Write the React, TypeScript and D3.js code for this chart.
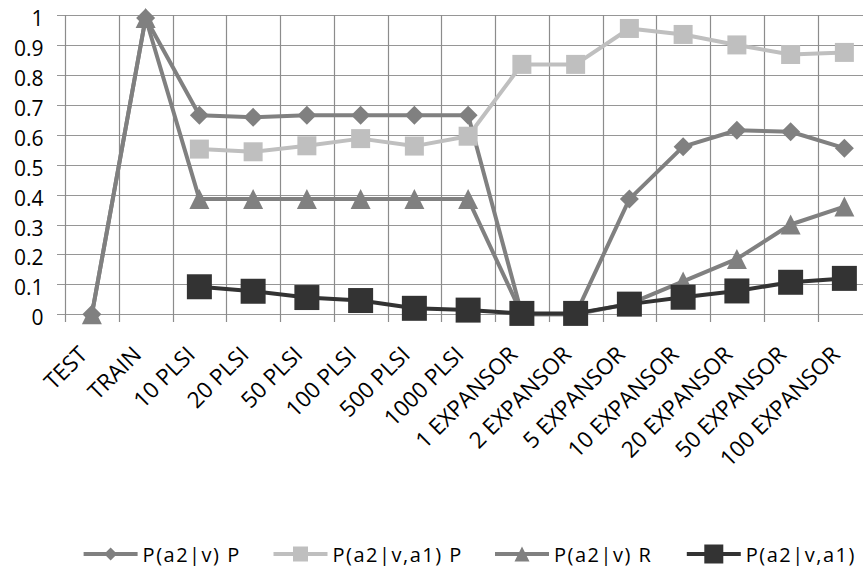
import React from 'react';
import * as d3 from 'd3';

const categories = [
  'TEST', 'TRAIN', '10 PLSI', '20 PLSI', '50 PLSI', '100 PLSI', '500 PLSI', '1000 PLSI',
  '1 EXPANSOR', '2 EXPANSOR', '5 EXPANSOR', '10 EXPANSOR', '20 EXPANSOR', '50 EXPANSOR', '100 EXPANSOR',
];

const pvP = [0, 0.99, 0.665, 0.658, 0.665, 0.665, 0.665, 0.665, 0, 0, 0.385, 0.56, 0.615, 0.61, 0.555];
const pva1P = [null, null, 0.552, 0.543, 0.563, 0.587, 0.562, 0.595, 0.835, 0.835, 0.955, 0.935, 0.9, 0.868, 0.875];
const pvR = [0, 0.99, 0.385, 0.385, 0.385, 0.385, 0.385, 0.385, 0, 0, 0.035, 0.11, 0.185, 0.3, 0.36];
const pva1R = [null, null, 0.092, 0.077, 0.056, 0.046, 0.02, 0.014, 0.003, 0.003, 0.034, 0.057, 0.078, 0.107, 0.12];

const yTicks = [0, 0.1, 0.2, 0.3, 0.4, 0.5, 0.6, 0.7, 0.8, 0.9, 1];

type Series = { name: string; values: (number | null)[]; color: string; marker: string };

const series: Series[] = [
  { name: 'P(a2|v) P', values: pvP, color: '#808080', marker: 'diamond' },
  { name: 'P(a2|v,a1) P', values: pva1P, color: '#bfbfbf', marker: 'square' },
  { name: 'P(a2|v) R', values: pvR, color: '#808080', marker: 'triangle' },
  { name: 'P(a2|v,a1) R', values: pva1R, color: '#333333', marker: 'bigsquare' },
];

const W = 863;
const H = 566;
const FONT = '"Open Sans", sans-serif';

// marker outline for a given type, size in px (bounding box)
function markerPath(kind: string, s: number) {
  const h = s / 2;
  if (kind === 'diamond') return `M0,${-h}L${h},0L0,${h}L${-h},0Z`;
  if (kind === 'triangle') return `M0,${-h}L${h},${h}L${-h},${h}Z`;
  return `M${-h},${-h}H${h}V${h}H${-h}Z`;
}

const chartSize: Record<string, number> = { diamond: 19, square: 19, triangle: 20, bigsquare: 25 };
const legendSize: Record<string, number> = { diamond: 13, square: 15, triangle: 15, bigsquare: 19 };
const legendX = [83.6, 273.5, 495, 686.8];

export default function App() {
  const x = d3.scaleBand<string>().domain(categories).range([65, 871.25]);
  const y = d3.scaleLinear().domain([0, 1]).range([314.3, 15]);
  const cx = (i: number) => (x(categories[i]) as number) + x.bandwidth() / 2;

  const line = d3
    .line<number | null>()
    .defined((d) => d != null)
    .x((_, i) => cx(i))
    .y((d) => y(d as number));

  const boundaries = categories.map((c) => x(c) as number).concat([x.range()[1]]);

  return (
    <div style={{ position: 'fixed', left: 0, top: 0, width: W, height: H, overflow: 'hidden', background: '#fff' }}>
      <svg width={W} height={H} style={{ display: 'block' }} fontFamily={FONT}>
        {/* horizontal gridlines + y ticks */}
        {yTicks.map((t) => (
          <g key={t}>
            <line x1={57} x2={W} y1={Math.round(y(t)) + 0.5} y2={Math.round(y(t)) + 0.5} stroke="#969696" strokeWidth={1.2} />
            <text x={43.5} y={y(t) + 11} textAnchor="end" fontSize={21} fill="#000">
              {t}
            </text>
          </g>
        ))}
        {/* vertical gridlines + x ticks */}
        {boundaries.map((bx, i) => (
          <line key={i} x1={Math.round(bx) + 0.5} x2={Math.round(bx) + 0.5} y1={y(1)} y2={322} stroke="#8c8c8c" strokeWidth={1.2} />
        ))}
        {/* category labels */}
        {categories.map((c, i) => (
          <text
            key={c}
            transform={`translate(${cx(i) - 3},${356}) rotate(-45)`}
            textAnchor="end"
            fontSize={22.5}
            fill="#000"
          >
            {c}
          </text>
        ))}
        {/* series */}
        {series.map((s) => (
          <g key={s.name}>
            <path d={line(s.values) || ''} fill="none" stroke={s.color} strokeWidth={4} strokeLinejoin="round" strokeLinecap="round" />
            {s.values.map((v, i) =>
              v == null ? null : (
                <path key={i} d={markerPath(s.marker, chartSize[s.marker])} transform={`translate(${cx(i)},${y(v)})`} fill={s.color} />
              )
            )}
          </g>
        ))}
        {/* legend */}
        {series.map((s, i) => (
          <g key={s.name} transform={`translate(${legendX[i]},554)`}>
            <line x1={0} x2={54} y1={0} y2={0} stroke={s.color} strokeWidth={4} />
            <path d={markerPath(s.marker, legendSize[s.marker])} transform="translate(27,0)" fill={s.color} />
            <text x={59} y={7.5} fontSize={20} letterSpacing={1.5} fill="#000">
              {s.name}
            </text>
          </g>
        ))}
      </svg>
    </div>
  );
}
